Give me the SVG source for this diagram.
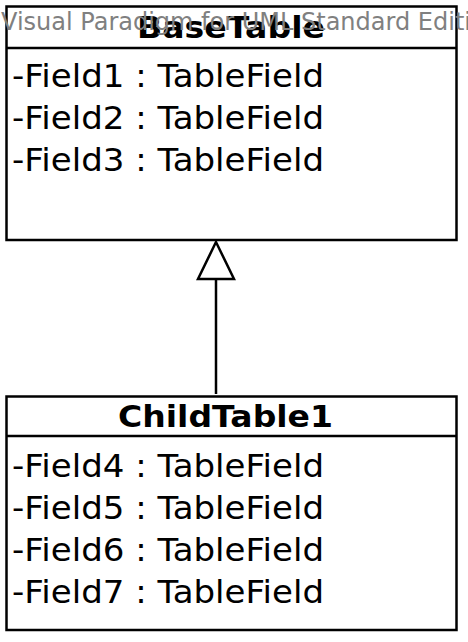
<svg xmlns="http://www.w3.org/2000/svg" width="468" height="642" viewBox="0 0 468 642">
<style>
.box{fill:#fff;stroke:#000;stroke-width:2.5}
.sep{stroke:#000;stroke-width:2.5}
.title{font-family:"DejaVu Sans",sans-serif;font-weight:bold;font-size:31px;fill:#000}
.attr{font-family:"DejaVu Sans",sans-serif;font-size:31.5px;fill:#000}
.wm{font-family:"DejaVu Sans",sans-serif;font-size:24px;fill:#808080}
.conn{stroke:#000;stroke-width:2.5;fill:none}
.tri{fill:#fff;stroke:#000;stroke-width:2.5}
</style>
<g id="BaseTable">
<rect class="box" x="6.5" y="6.5" width="450" height="233.5"/>
<line class="sep" x1="6.5" y1="48" x2="456.5" y2="48"/>
<text class="title" x="137" y="38" textLength="188" lengthAdjust="spacingAndGlyphs">BaseTable</text>
<text class="attr" x="12" y="87" textLength="312" lengthAdjust="spacingAndGlyphs">-Field1 : TableField</text>
<text class="attr" x="12" y="129" textLength="312" lengthAdjust="spacingAndGlyphs">-Field2 : TableField</text>
<text class="attr" x="12" y="171" textLength="312" lengthAdjust="spacingAndGlyphs">-Field3 : TableField</text>
</g>
<g id="ChildTable1">
<rect class="box" x="6.5" y="396.5" width="450" height="233.5"/>
<line class="sep" x1="6.5" y1="436" x2="456.5" y2="436"/>
<text class="title" x="118" y="427" textLength="215" lengthAdjust="spacingAndGlyphs">ChildTable1</text>
<text class="attr" x="12" y="477" textLength="312" lengthAdjust="spacingAndGlyphs">-Field4 : TableField</text>
<text class="attr" x="12" y="519" textLength="312" lengthAdjust="spacingAndGlyphs">-Field5 : TableField</text>
<text class="attr" x="12" y="561" textLength="312" lengthAdjust="spacingAndGlyphs">-Field6 : TableField</text>
<text class="attr" x="12" y="603" textLength="312" lengthAdjust="spacingAndGlyphs">-Field7 : TableField</text>
</g>
<g id="connectors">
<line class="conn" x1="216" y1="279" x2="216" y2="394"/>
<polygon class="tri" points="216,242 198,279 234,279"/>
</g>
<text class="wm" x="1" y="30">Visual Paradigm for UML Standard Edition</text>
</svg>
